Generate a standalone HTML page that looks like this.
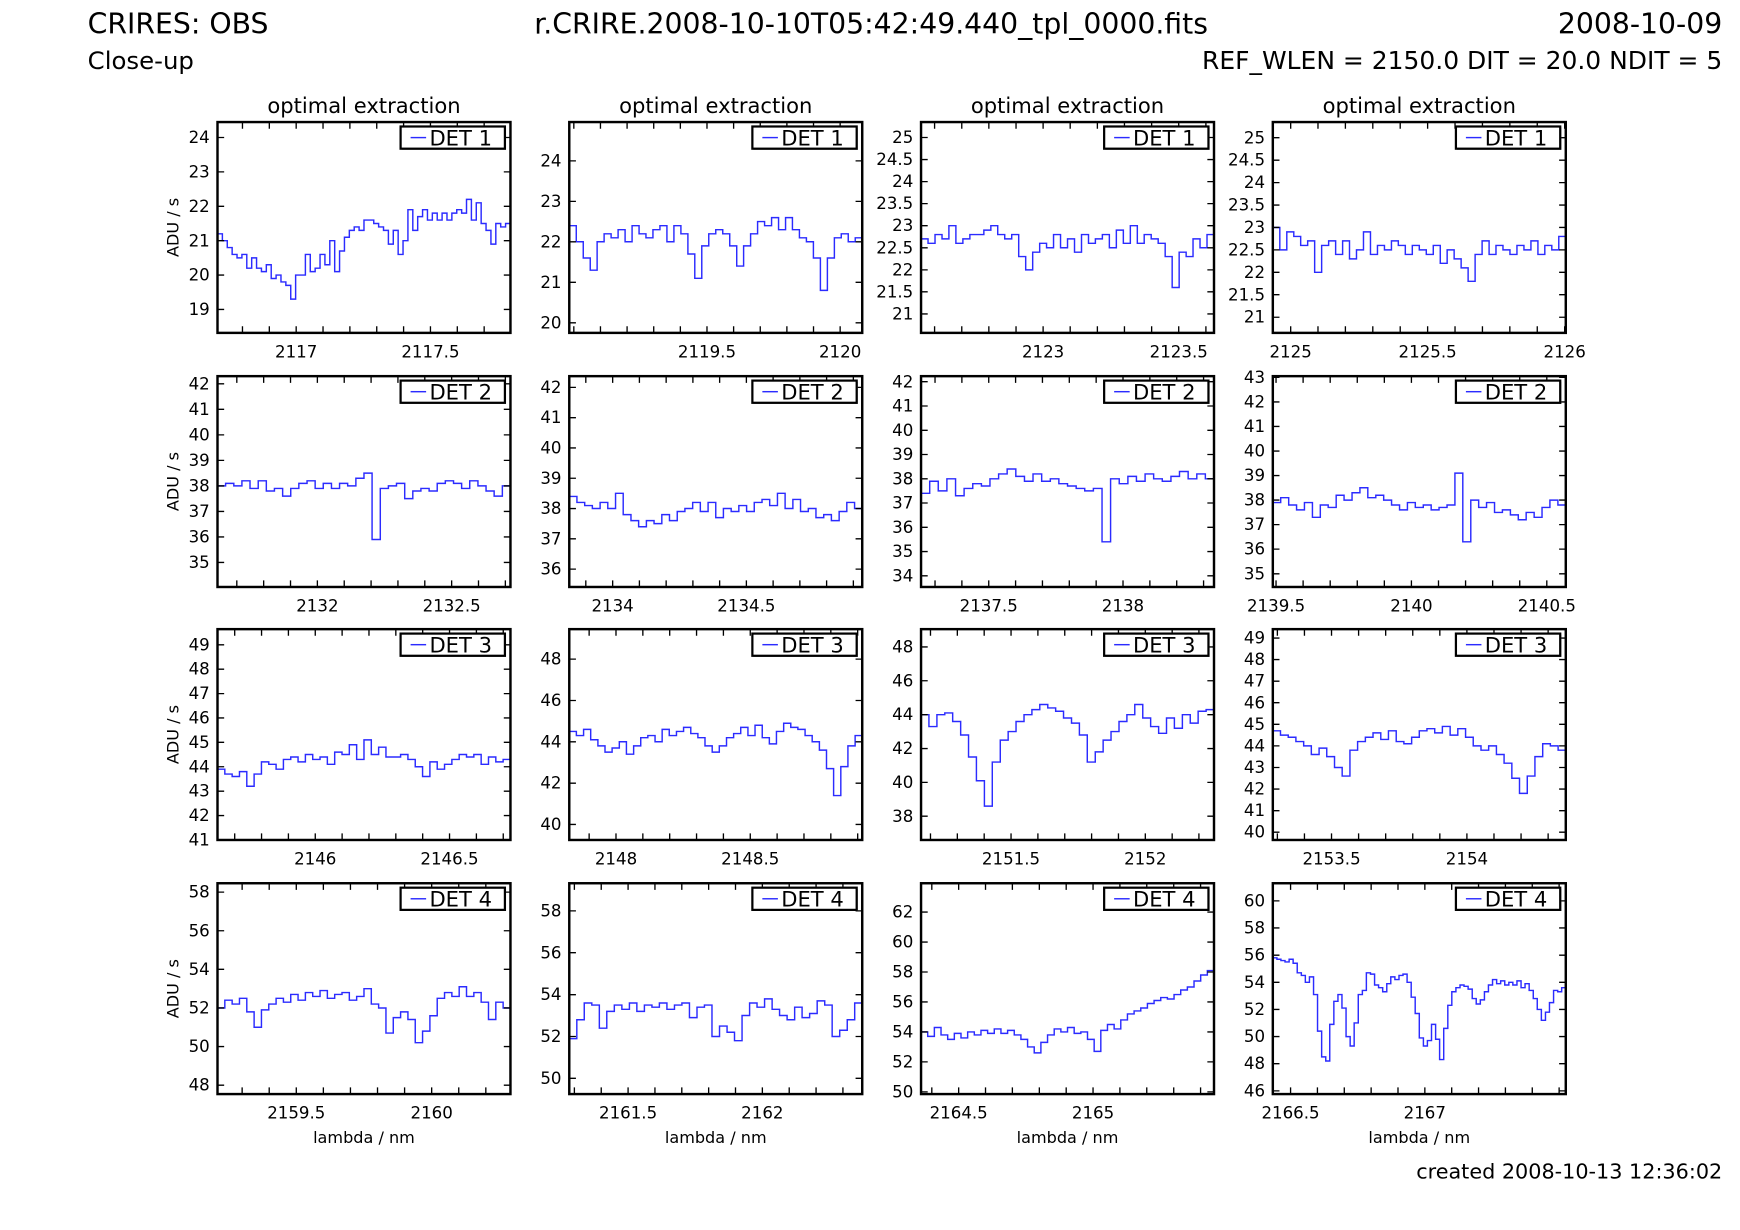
<!DOCTYPE html>
<html><head><meta charset="utf-8"><style>
html,body{margin:0;padding:0;background:#fff;}
svg{display:block;font-family:"DejaVu Sans","Liberation Sans",sans-serif;}
</style></head><body>
<svg id="fig" width="1740" height="1230" viewBox="0 0 1568 1108.5" preserveAspectRatio="none" xmlns="http://www.w3.org/2000/svg">
<rect width="1568" height="1108.5" fill="#fff"/>
<text x="79" y="30" font-size="25.5">CRIRES: OBS</text>
<text x="79" y="62" font-size="22">Close-up</text>
<text x="785" y="30" font-size="25.5" text-anchor="middle">r.CRIRE.2008-10-10T05:42:49.440_tpl_0000.fits</text>
<text x="1552" y="30" font-size="25.5" text-anchor="end">2008-10-09</text>
<text x="1552" y="62" font-size="22.5" text-anchor="end">REF_WLEN = 2150.0 DIT = 20.0 NDIT = 5</text>
<text x="1552" y="1062" font-size="18.7" text-anchor="end">created 2008-10-13 12:36:02</text>
<g id="panels"></g>
</svg>
<script>
const xRanges=[[2116.707,2117.798],[2118.983,2120.083],[2122.55,2123.63],[2124.935,2126.004],
[2131.628,2132.719],[2133.838,2134.933],[2137.248,2138.339],[2139.488,2140.57],
[2145.636,2146.727],[2147.826,2148.917],[2151.165,2152.256],[2153.283,2154.365],
[2159.209,2160.291],[2161.281,2162.372],[2164.36,2165.45],[2166.434,2167.525]];
const yRanges=[[18.32,24.45],[19.75,24.96],[20.57,25.35],[20.65,25.35],
[34.04,42.3],[35.41,42.37],[33.54,42.23],[34.46,43.05],
[41.0,49.64],[39.25,49.45],[36.6,49.05],[39.64,49.41],
[47.54,58.46],[49.25,59.32],[49.85,63.93],[45.76,61.3]];
const yTicks=[[19,20,21,22,23,24],[20,21,22,23,24],[21,21.5,22,22.5,23,23.5,24,24.5,25],[21,21.5,22,22.5,23,23.5,24,24.5,25],
[35,36,37,38,39,40,41,42],[36,37,38,39,40,41,42],[34,35,36,37,38,39,40,41,42],[35,36,37,38,39,40,41,42,43],
[41,42,43,44,45,46,47,48,49],[40,42,44,46,48],[38,40,42,44,46,48],[40,41,42,43,44,45,46,47,48,49],
[48,50,52,54,56,58],[50,52,54,56,58],[50,52,54,56,58,60,62],[46,48,50,52,54,56,58,60]];
const xTicks=[[2117,2117.5],[2119.5,2120],[2123,2123.5],[2125,2125.5,2126],
[2132,2132.5],[2134,2134.5],[2137.5,2138],[2139.5,2140,2140.5],
[2146,2146.5],[2148,2148.5],[2151.5,2152],[2153.5,2154],
[2159.5,2160],[2161.5,2162],[2164.5,2165],[2166.5,2167]];
const s0=[21.2,21.0,20.8,20.6,20.5,20.6,20.2,20.5,20.2,20.1,20.3,19.9,20.0,19.8,19.7,19.3,20.0,20.0,20.6,20.1,20.2,20.6,20.3,21.0,20.1,20.7,21.1,21.3,21.4,21.3,21.6,21.6,21.5,21.4,21.3,20.9,21.3,20.6,21.0,21.9,21.3,21.7,21.9,21.6,21.8,21.6,21.8,21.6,21.8,21.9,21.8,22.2,21.6,22.1,21.5,21.3,20.9,21.5,21.4,21.5];
const s1=[22.4,22.0,21.6,21.3,22.0,22.2,22.1,22.3,22.0,22.4,22.2,22.1,22.3,22.4,22.0,22.4,22.2,21.7,21.1,21.9,22.2,22.3,22.2,21.9,21.4,21.9,22.2,22.5,22.4,22.6,22.3,22.6,22.3,22.1,22.0,21.6,20.8,21.6,22.1,22.2,22.0,22.1];
const s2=[22.7,22.6,22.8,22.7,23.0,22.6,22.7,22.8,22.8,22.9,23.0,22.8,22.7,22.8,22.3,22.0,22.4,22.6,22.5,22.8,22.5,22.7,22.4,22.8,22.6,22.7,22.8,22.5,22.9,22.6,23.0,22.6,22.8,22.7,22.6,22.3,21.6,22.4,22.3,22.7,22.5,22.8];
const s3=[23.0,22.5,22.9,22.8,22.6,22.7,22.0,22.6,22.7,22.4,22.7,22.3,22.5,22.9,22.4,22.6,22.5,22.7,22.6,22.4,22.6,22.5,22.4,22.6,22.2,22.5,22.3,22.1,21.8,22.4,22.7,22.4,22.6,22.5,22.4,22.6,22.5,22.7,22.4,22.6,22.5,22.8];
const s4=[38.0,38.1,38.0,38.2,37.9,38.2,37.8,37.9,37.6,37.9,38.1,38.2,37.9,38.1,37.9,38.1,38.0,38.3,38.5,35.9,37.9,38.0,38.1,37.5,37.8,37.9,37.8,38.1,38.2,38.1,37.9,38.2,38.0,37.8,37.6,38.0];
const s5=[38.4,38.2,38.1,38.0,38.2,38.0,38.5,37.8,37.6,37.4,37.6,37.5,37.8,37.6,37.9,38.0,38.2,37.9,38.2,37.7,38.0,37.9,38.1,37.9,38.2,38.3,38.1,38.5,38.0,38.3,37.9,38.0,37.7,37.8,37.6,37.9,38.2,38.0];
const s6=[37.4,37.9,37.5,38.0,37.3,37.6,37.8,37.7,38.0,38.2,38.4,38.1,37.9,38.2,37.9,38.0,37.8,37.7,37.6,37.5,37.6,35.4,38.0,37.8,38.1,37.9,38.2,38.0,37.9,38.1,38.3,38.0,38.2,38.0];
const s7=[37.9,38.1,37.8,37.6,37.9,37.3,37.8,37.7,38.2,38.0,38.3,38.5,38.1,38.2,38.0,37.8,37.6,37.9,37.7,37.8,37.6,37.7,37.8,39.1,36.3,38.0,37.7,37.9,37.5,37.6,37.4,37.2,37.5,37.3,37.7,38.0,37.8];
const s8=[43.9,43.7,43.6,43.8,43.2,43.7,44.2,44.1,43.9,44.3,44.4,44.2,44.5,44.3,44.4,44.1,44.6,44.5,44.9,44.3,45.1,44.5,44.8,44.4,44.4,44.5,44.3,44.0,43.6,44.2,43.9,44.1,44.3,44.5,44.4,44.5,44.1,44.4,44.2,44.3];
const s9=[44.5,44.3,44.6,44.1,43.8,43.5,43.7,44.0,43.4,43.8,44.2,44.3,44.0,44.6,44.3,44.5,44.7,44.4,44.2,43.8,43.5,43.8,44.2,44.4,44.7,44.3,44.8,44.2,43.9,44.5,44.9,44.7,44.6,44.3,44.0,43.6,42.7,41.4,42.8,43.8,44.3];
const s10=[44.0,43.3,44.0,44.1,43.6,42.8,41.5,40.1,38.6,41.2,42.5,43.0,43.6,44.0,44.3,44.6,44.4,44.2,43.8,43.5,42.8,41.2,41.8,42.5,43.0,43.6,44.0,44.6,43.8,43.3,42.9,43.8,43.2,44.0,43.5,44.2,44.3];
const s11=[44.7,44.5,44.4,44.2,44.0,43.6,43.9,43.5,43.0,42.6,43.8,44.2,44.4,44.6,44.3,44.7,44.2,44.1,44.4,44.7,44.8,44.6,44.9,44.5,44.8,44.4,44.0,43.8,44.0,43.6,43.2,42.5,41.8,42.6,43.5,44.1,44.0,43.8];
const s12=[52.0,52.4,52.2,52.5,51.8,51.0,51.9,52.2,52.5,52.3,52.7,52.4,52.8,52.6,52.9,52.5,52.7,52.8,52.4,52.6,53.0,52.2,52.0,50.7,51.5,51.8,51.4,50.2,50.8,51.6,52.5,52.8,52.6,53.1,52.6,52.8,52.3,51.4,52.3,52.0];
const s13=[51.9,52.8,53.6,53.5,52.4,53.2,53.5,53.3,53.6,53.2,53.5,53.4,53.6,53.3,53.5,53.6,52.9,53.4,53.5,52.0,52.5,52.2,51.8,53.0,53.6,53.4,53.8,53.3,53.0,52.8,53.4,52.9,53.1,53.7,53.5,52.0,52.3,52.8,53.6];
const s14=[54.0,53.7,54.3,53.8,53.5,53.9,53.6,54.0,53.8,54.1,53.9,54.2,53.9,54.1,53.8,53.5,53.0,52.6,53.3,53.8,54.2,54.0,54.3,53.9,54.0,53.5,52.7,54.1,54.5,54.2,54.8,55.2,55.4,55.6,55.9,56.1,56.3,56.2,56.5,56.8,57.0,57.4,57.8,58.1];
const s15=[55.8,55.7,55.6,55.5,55.7,55.4,54.7,54.5,54.0,54.4,53.1,50.4,48.5,48.2,50.9,52.6,53.1,52.1,50.0,49.3,51.0,53.1,53.4,54.7,54.6,53.8,53.6,53.3,53.9,54.4,54.2,54.5,54.6,54.0,52.9,51.7,49.9,49.3,49.7,50.9,49.8,48.3,50.6,52.3,53.3,53.6,53.8,53.7,53.5,52.8,52.4,52.7,53.3,53.8,54.2,53.9,54.1,53.8,54.0,53.8,54.1,53.6,53.9,53.4,52.8,52.0,51.2,51.8,52.5,53.4,53.3,53.6];
const series=[s0,s1,s2,s3,s4,s5,s6,s7,s8,s9,s10,s11,s12,s13,s14,s15];
const detLabels=['DET 1','DET 2','DET 3','DET 4'];

const NS='http://www.w3.org/2000/svg';
const root=document.getElementById('panels');
const colX=[196,513,830,1147], rowY=[110,339,567,796], PW=264, PH=190;
function mk(tag,attrs,parent){const e=document.createElementNS(NS,tag);for(const k in attrs)e.setAttribute(k,attrs[k]);(parent||root).appendChild(e);return e;}
function fmt(v){return String(Math.round(v*10)/10);}
for(let i=0;i<16;i++){
  const r=Math.floor(i/4), c=i%4, x0=colX[c], y0=rowY[r];
  const [xa,xb]=xRanges[i], [ya,yb]=yRanges[i];
  const sx=v=>x0+(v-xa)/(xb-xa)*PW;
  const sy=v=>y0+PH-(v-ya)/(yb-ya)*PH;
  const g=mk('g',{});
  
  
  const cp=mk('clipPath',{id:'cp'+i},g); mk('rect',{x:x0,y:y0,width:PW,height:PH},cp);
  const vals=series[i], n=vals.length, w=(xb-xa)/n;
  let d='';
  vals.forEach((v,k)=>{const xl=sx(xa+k*w), xr=sx(xa+(k+1)*w), yy=sy(v); d+=(k?'L':'M')+xl.toFixed(1)+','+yy.toFixed(1)+'L'+xr.toFixed(1)+','+yy.toFixed(1);});
  const ln=mk('path',{d:d,fill:'none',stroke:'#2b2bff','stroke-width':1.3,'clip-path':'url(#cp'+i+')'},g);
  
  
  let tk='';
  for(let t=Math.ceil(xa*10);t<=Math.floor(xb*10);t++){const xx=sx(t/10);tk+='M'+xx.toFixed(1)+','+(y0+PH)+'v-6M'+xx.toFixed(1)+','+y0+'v6';}
  yTicks[i].forEach(v=>{const yy=sy(v);tk+='M'+x0+','+yy.toFixed(1)+'h6M'+(x0+PW)+','+yy.toFixed(1)+'h-6';});
  mk('path',{d:tk,stroke:'#000','stroke-width':1.2,fill:'none'},g);
  yTicks[i].forEach(v=>{const t=mk('text',{x:x0-7,y:sy(v)+5,'font-size':15,'text-anchor':'end'},g);t.textContent=fmt(v);
    
    });
  xTicks[i].forEach(v=>{const t=mk('text',{x:sx(v),y:y0+PH+22,'font-size':15,'text-anchor':'middle'},g);t.textContent=fmt(v);
    
    });
  const fr=mk('rect',{x:x0,y:y0,width:PW,height:PH,fill:'none',stroke:'#000','stroke-width':2.2},g);
  
  
  const lg=mk('g',{},g);
  
  
  mk('rect',{x:x0+166,y:y0+5,width:94,height:20,fill:'#888'},lg);
  mk('rect',{x:x0+165,y:y0+4,width:94,height:20,fill:'#fff',stroke:'#000','stroke-width':2},lg);
  mk('line',{x1:x0+174,x2:x0+188,y1:y0+14,y2:y0+14,stroke:'#2b2bff','stroke-width':1.3},lg);
  const lt=mk('text',{x:x0+191,y:y0+21,'font-size':19},lg); lt.textContent=detLabels[r];
  if(r===0){const t=mk('text',{x:x0+PW/2,y:102,'font-size':19,'text-anchor':'middle'},g);t.textContent='optimal extraction';
    
    }
  if(c===0){const t=mk('text',{x:0,y:0,'font-size':14.5,'text-anchor':'middle',transform:'translate(161,'+(y0+PH/2)+') rotate(-90)'},g);t.textContent='ADU / s';
    
    }
  if(r===3){const t=mk('text',{x:x0+PW/2,y:1030,'font-size':14.5,'text-anchor':'middle'},g);t.textContent='lambda / nm';
    
    }
}
</script>
</body></html>
